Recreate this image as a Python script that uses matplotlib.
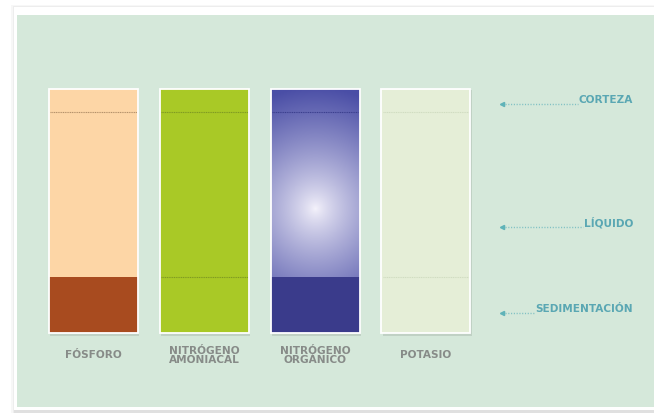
import numpy as np
import matplotlib
matplotlib.use("Agg")
import matplotlib.pyplot as plt
from matplotlib.patches import Rectangle
from matplotlib.colors import to_rgb

# datos
nutrientes = ["FÓSFORO", "NITRÓGENO\nAMONIACAL", "NITRÓGENO\nORGÁNICO", "POTASIO"]
nivel_sedimento = [23, 23, 23, 23]      # % de la altura
nivel_corteza = [90.6, 90.6, 90.6, 90.6]
color_liquido = ["#fdd6a6", "#a9c926", "gradiente", "#e5eed7"]
color_sedimento = ["#a84b1f", "#a9c926", "#3a3b8b", "#e5eed7"]
color_linea = ["#b4916a", "#7f9a22", "#3b3f8e", "#d0dcc1"]
capas = ["CORTEZA", "LÍQUIDO", "SEDIMENTACIÓN"]
capas_y = [93.9, 43.4, 8.2]

W, H = 654, 413
fig = plt.figure(figsize=(W / 100, H / 100), dpi=100)
fig.patch.set_facecolor("white")

# sombra y fondo del panel
for i, a in enumerate([0.03, 0.04, 0.05]):
    fig.patches.append(Rectangle(((11 + i * 1.5) / W, 0), 1, (H - 5 - i) / H,
                                 transform=fig.transFigure, color="#000000",
                                 alpha=a, lw=0, zorder=0))
fig.patches.append(Rectangle((14 / W, 3 / H), 1, (H - 10) / H, transform=fig.transFigure,
                             color="white", lw=0, zorder=0))
fig.patches.append(Rectangle((17 / W, 6 / H), 1, (H - 21) / H, transform=fig.transFigure,
                             color="#d5e8da", lw=0, zorder=0))

ax = fig.add_axes([0, 0, 1, 1])
ax.set_zorder(5)
ax.patch.set_alpha(0)
ax.set_xlim(-0.8439, 5.0587)
ax.set_ylim(-32.79, 136.48)
ax.axis("off")

ancho = 89 / 110.8
px_x = 110.8
px_y = 2.44
fuente = dict(fontsize=7.6, fontweight="bold", family="DejaVu Sans")

for i, nombre in enumerate(nutrientes):
    x0 = i - ancho / 2
    sed = nivel_sedimento[i]
    cor = nivel_corteza[i]
    # sombra inferior
    ax.add_patch(Rectangle((x0 + 0.01, -1.4), ancho, 101, color="#9aa89c",
                           alpha=0.35, lw=0, zorder=1))
    if color_liquido[i] == "gradiente":
        nx, ny = 90, 250
        gx = np.linspace(-ancho / 2, ancho / 2, nx) * px_x
        gy = np.linspace(sed, 100, ny)
        GX, GY = np.meshgrid(gx, gy)
        d = np.hypot(GX * 1.05, (GY - 51) * px_y)
        t = np.clip(d / 122, 0, 1) ** 0.8
        c0 = np.array(to_rgb("#f6f4fc"))
        c1 = np.array(to_rgb("#4a4ea6"))
        img = c0 + (c1 - c0) * t[..., None]
        ax.imshow(img, extent=(x0, x0 + ancho, sed, 100), origin="lower",
                  aspect="auto", zorder=2, interpolation="bilinear")
    else:
        ax.add_patch(Rectangle((x0, sed), ancho, 100 - sed, color=color_liquido[i],
                               lw=0, zorder=2))
    ax.add_patch(Rectangle((x0, 0), ancho, sed, color=color_sedimento[i], lw=0, zorder=2))
    ax.add_patch(Rectangle((x0, 0), ancho, 100, fill=False, ec="white", lw=1.3, zorder=4))
    ax.plot([x0 + 0.01, x0 + ancho - 0.01], [cor, cor], color=color_linea[i],
            lw=0.8, ls=(0, (1, 0.6)), zorder=3)
    if color_sedimento[i] == color_liquido[i]:
        ax.plot([x0 + 0.01, x0 + ancho - 0.01], [sed, sed], color=color_linea[i],
                lw=0.8, ls=(0, (1, 0.6)), zorder=3)
    ax.text(i, -9.2, nombre, ha="center", va="center", color="#878b88",
            linespacing=0.82, **fuente)

# etiquetas de capas
x_flecha = (502 - 93.5) / px_x
x_texto = (633 - 93.5) / px_x
r = fig.canvas.get_renderer()
for nombre, y in zip(capas, capas_y):
    t = ax.text(x_texto, y - 0.6, nombre, ha="right", va="bottom",
                color="#5aa7b3", **fuente)
    bb = t.get_window_extent(r).transformed(ax.transData.inverted())
    ax.plot(x_flecha, y, marker="<", ms=3, color="#5fb3b8", zorder=5)
    ax.plot([x_flecha + 0.03, bb.x0 - 0.01], [y, y], color="#7fc0c3", lw=1.0,
            ls=(0, (0.8, 1.2)), zorder=5)

fig.savefig("out.png", dpi=100)
